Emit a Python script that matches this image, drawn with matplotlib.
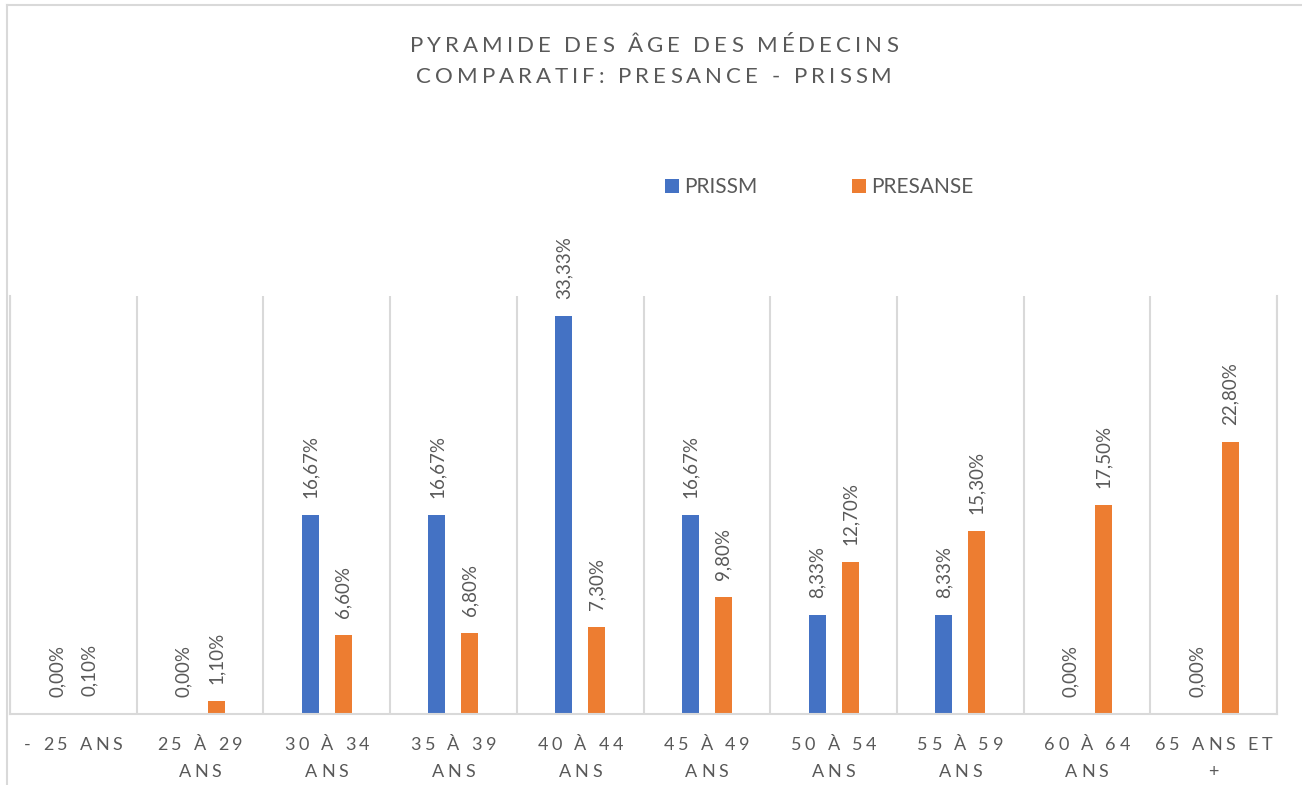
import matplotlib
matplotlib.use("Agg")
import matplotlib.pyplot as plt
import numpy as np
from matplotlib.font_manager import FontProperties
from matplotlib.textpath import TextToPath
from matplotlib.lines import Line2D

# data
categories = ["- 25 ANS", "25 À 29\nANS", "30 À 34\nANS", "35 À 39\nANS", "40 À 44\nANS",
              "45 À 49\nANS", "50 À 54\nANS", "55 À 59\nANS", "60 À 64\nANS", "65 ANS ET\n+"]
prissm = [0.00, 0.00, 16.67, 16.67, 33.33, 16.67, 8.33, 8.33, 0.00, 0.00]
presanse = [0.10, 1.10, 6.60, 6.80, 7.30, 9.80, 12.70, 15.30, 17.50, 22.80]
series_names = ["PRISSM", "PRESANSE"]
title_lines = ["PYRAMIDE DES ÂGE DES MÉDECINS", "COMPARATIF: PRESANCE - PRISSM"]

W, H, DPI = 1302, 785, 100
FONT = "Lato"
GRAY = "#595959"
LINE = "#D9D9D9"
BLUE = "#4472C4"
ORANGE = "#ED7D31"

_ttp = TextToPath()


def char_width(c, prop):
    # width in pixels, measured between two bars so spaces count too
    w1 = _ttp.get_text_width_height_descent("|" + c + "|", prop, ismath=False)[0]
    w0 = _ttp.get_text_width_height_descent("||", prop, ismath=False)[0]
    return (w1 - w0) * DPI / 72.0


def tracked_text(fig, cx, y, s, size, track, color=GRAY):
    # letter-spaced text centred on cx, baseline at y (pixels from top)
    prop = FontProperties(family=FONT, size=size)
    widths = [char_width(c, prop) for c in s]
    total = sum(widths) + track * (len(s) - 1)
    x = cx - total / 2.0
    for c, w in zip(s, widths):
        if c != " ":
            fig.text(x / W, 1 - y / H, c, fontproperties=prop, color=color,
                     ha="left", va="baseline")
        x += w + track


fig = plt.figure(figsize=(W / DPI, H / DPI), dpi=DPI)
ax = fig.add_axes([10 / W, (H - 714) / H, (1277 - 10) / W, (714 - 296) / H])

x = np.arange(len(categories))
bw = 0.134
b1 = ax.bar(x - 0.13, prissm, bw, color=BLUE, label=series_names[0])
b2 = ax.bar(x + 0.13, presanse, bw, color=ORANGE, label=series_names[1])

ax.set_xlim(-0.5, len(categories) - 0.5)
ax.set_ylim(0, 35)

for bars, vals in ((b1, prissm), (b2, presanse)):
    for rect, v in zip(bars, vals):
        ax.annotate(f"{v:.2f}%".replace(".", ","),
                    (rect.get_x() + rect.get_width() / 2, v),
                    xytext=(0, 17 * 72 / DPI), textcoords="offset points",
                    rotation=90, ha="center", va="bottom",
                    fontsize=13.5, family=FONT, color=GRAY)

# category separators
ax.set_xticks(np.arange(-0.5, len(categories), 1.0), minor=True)
ax.set_xticks(x)
ax.set_xticklabels([])
ax.set_yticks([])
ax.tick_params(axis="x", which="both", length=0)
ax.xaxis.grid(True, which="minor", color=LINE, linewidth=1.5)
ax.xaxis.grid(False, which="major")
ax.spines["top"].set_visible(False)
for side in ("left", "right", "bottom"):
    ax.spines[side].set_color(LINE)
    ax.spines[side].set_linewidth(1.5)

# tick labels, letter-spaced
for i, lab in enumerate(categories):
    px = ax.transData.transform((i, 0))[0]
    for j, line in enumerate(lab.split("\n")):
        tracked_text(fig, px, 750 + 27 * j, line, 13, 3.7)

# title
tracked_text(fig, 654, 52, title_lines[0], 16, 4.0)
tracked_text(fig, 654, 83, title_lines[1], 16, 4.0)

leg = ax.legend(loc="center left", bbox_to_anchor=(665 / W, 1 - 187 / H),
                bbox_transform=fig.transFigure, ncol=2, frameon=False,
                borderpad=0, borderaxespad=0, handlelength=0.67, handleheight=0.67,
                handletextpad=0.25, columnspacing=4.55,
                prop=FontProperties(family=FONT, size=15))
for t in leg.get_texts():
    t.set_color(GRAY)

# chart border
fig.add_artist(Line2D([7 / W, 7 / W], [0, 1 - 5 / H], transform=fig.transFigure,
                      color=LINE, linewidth=1.5))
fig.add_artist(Line2D([7 / W, 1], [1 - 5 / H, 1 - 5 / H], transform=fig.transFigure,
                      color=LINE, linewidth=1.5))

fig.savefig("out.png", dpi=DPI, facecolor="white")
